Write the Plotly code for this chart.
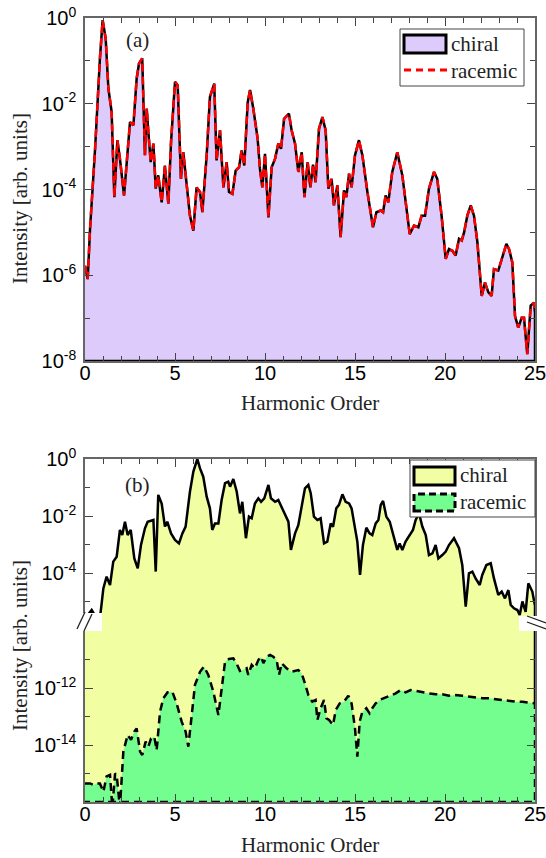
import plotly.graph_objects as go

# ---------------- data (log10 of intensity vs harmonic order) ----------------
harm_a = [0.00, 0.15, 0.28, 0.56, 0.83, 0.98, 1.15, 1.30, 1.48, 1.63,
          1.80, 1.94, 2.17, 2.31, 2.50, 2.69, 2.87, 3.00, 3.18, 3.33,
          3.43, 3.52, 3.65, 3.80, 3.93, 4.07, 4.26, 4.44, 4.63, 4.78,
          5.00, 5.15, 5.33, 5.46, 5.65, 5.83, 6.02, 6.20, 6.39, 6.52,
          6.76, 6.94, 7.18, 7.31, 7.50, 7.69, 7.87, 8.00, 8.19, 8.37,
          8.56, 8.70, 8.85, 9.04, 9.17, 9.35, 9.59, 9.72, 9.85, 10.00,
          10.19, 10.37, 10.56, 10.74, 10.89, 11.06, 11.33, 11.48, 11.67, 11.85,
          12.04, 12.19, 12.37, 12.52, 12.67, 12.81, 13.00, 13.19, 13.37, 13.52,
          13.70, 13.83, 14.02, 14.20, 14.39, 14.52, 14.67, 14.81, 15.00, 15.22,
          15.41, 15.69, 16.00, 16.19, 16.43, 16.56, 16.70, 16.85, 17.07, 17.35,
          17.63, 17.81, 18.04, 18.28, 18.52, 18.70, 18.89, 19.11, 19.39, 19.57,
          19.81, 20.04, 20.22, 20.41, 20.59, 20.78, 20.93, 21.06, 21.24, 21.43,
          21.61, 21.80, 22.04, 22.22, 22.41, 22.59, 22.72, 22.96, 23.19, 23.41,
          23.56, 23.74, 23.89, 24.07, 24.26, 24.39, 24.48, 24.57, 24.76, 24.94,
          25.00]
chiral_a_exp = [-5.78, -6.09, -4.92, -3.05, -0.94, -0.05, -0.48, -1.65, -2.19, -4.18,
                -2.85, -3.28, -4.14, -3.44, -2.43, -2.50, -1.41, -1.06, -0.94, -3.20,
                -2.11, -2.66, -3.36, -2.93, -3.98, -3.67, -4.30, -3.44, -4.33, -2.89,
                -1.49, -1.57, -3.75, -3.13, -3.98, -4.61, -4.96, -3.95, -4.06, -4.53,
                -3.20, -1.84, -1.53, -3.32, -2.62, -3.95, -3.36, -4.06, -4.10, -3.56,
                -3.48, -3.09, -3.44, -1.96, -1.68, -2.11, -2.81, -3.52, -3.95, -3.17,
                -4.65, -3.48, -3.28, -2.93, -3.05, -2.35, -2.23, -2.62, -2.93, -3.59,
                -3.13, -4.18, -3.36, -3.95, -3.42, -3.83, -2.58, -2.31, -2.62, -3.98,
                -3.75, -4.37, -3.90, -5.11, -4.02, -4.18, -3.63, -3.95, -3.20, -2.85,
                -3.20, -4.06, -4.88, -4.53, -4.49, -4.53, -4.14, -4.30, -3.59, -3.13,
                -3.67, -4.30, -5.04, -4.84, -4.88, -4.61, -4.61, -3.98, -3.59, -3.75,
                -4.61, -5.62, -5.39, -5.43, -5.54, -5.15, -5.19, -5.00, -4.61, -4.37,
                -4.61, -5.23, -6.48, -6.17, -6.40, -6.48, -5.86, -5.89, -5.54, -5.27,
                -5.39, -5.70, -6.95, -7.22, -6.99, -6.99, -7.42, -7.84, -6.71, -6.64,
                -6.88]
racemic_a_exp = [-5.78, -6.09, -4.92, -3.05, -0.94, -0.05, -0.48, -1.65, -2.19, -4.18,
                 -2.85, -3.28, -4.14, -3.44, -2.43, -2.50, -1.41, -1.06, -0.94, -3.20,
                 -2.11, -2.66, -3.36, -2.93, -3.98, -3.67, -4.30, -3.44, -4.33, -2.89,
                 -1.49, -1.57, -3.75, -3.13, -3.98, -4.61, -4.96, -3.95, -4.06, -4.53,
                 -3.20, -1.84, -1.53, -3.32, -2.62, -3.95, -3.36, -4.06, -4.10, -3.56,
                 -3.48, -3.09, -3.44, -1.96, -1.68, -2.11, -2.81, -3.52, -3.95, -3.17,
                 -4.65, -3.48, -3.28, -2.93, -3.05, -2.35, -2.23, -2.62, -2.93, -3.59,
                 -3.13, -4.18, -3.36, -3.95, -3.42, -3.83, -2.58, -2.31, -2.62, -3.98,
                 -3.75, -4.37, -3.90, -5.11, -4.02, -4.18, -3.63, -3.95, -3.20, -2.85,
                 -3.20, -4.06, -4.88, -4.53, -4.49, -4.53, -4.14, -4.30, -3.59, -3.13,
                 -3.67, -4.30, -5.04, -4.84, -4.88, -4.61, -4.61, -3.98, -3.59, -3.75,
                 -4.61, -5.62, -5.39, -5.43, -5.54, -5.15, -5.19, -5.00, -4.61, -4.37,
                 -4.61, -5.23, -6.48, -6.17, -6.40, -6.48, -5.86, -5.89, -5.54, -5.27,
                 -5.39, -5.70, -6.95, -7.22, -6.99, -6.99, -7.42, -7.84, -6.71, -6.64,
                 -6.88]

harm_b_chiral = [0.00, 0.19, 0.37, 0.56, 0.83, 1.02, 1.20, 1.39, 1.57, 1.76,
                 1.94, 2.07, 2.22, 2.37, 2.54, 2.74, 2.93, 3.11, 3.33, 3.48,
                 3.70, 3.80, 3.93, 4.07, 4.26, 4.44, 4.57, 4.78, 5.00, 5.22,
                 5.41, 5.59, 5.83, 6.02, 6.24, 6.39, 6.57, 6.76, 6.94, 7.07,
                 7.22, 7.41, 7.59, 7.78, 7.96, 8.06, 8.24, 8.43, 8.61, 8.74,
                 8.94, 9.11, 9.26, 9.44, 9.63, 9.78, 9.96, 10.19, 10.33, 10.56,
                 10.74, 11.11, 11.30, 11.44, 11.67, 11.85, 12.04, 12.22, 12.41, 12.54,
                 12.72, 12.91, 13.09, 13.28, 13.46, 13.65, 13.78, 13.96, 14.11, 14.30,
                 14.48, 14.67, 14.81, 14.94, 15.13, 15.28, 15.44, 15.63, 15.81, 15.96,
                 16.15, 16.30, 16.43, 16.56, 16.74, 16.93, 17.07, 17.26, 17.35, 17.48,
                 17.63, 17.81, 18.00, 18.22, 18.37, 18.56, 18.74, 18.93, 19.11, 19.30,
                 19.48, 19.63, 19.85, 20.04, 20.22, 20.50, 20.78, 20.96, 21.15, 21.33,
                 21.52, 21.70, 21.93, 22.07, 22.30, 22.54, 22.72, 22.96, 23.15, 23.33,
                 23.52, 23.65, 23.83, 24.02, 24.15, 24.30, 24.48, 24.63, 24.85, 25.00]
chiral_b_exp = [-5.60, -5.45, -5.30, -5.50, -5.59, -4.54, -4.13, -4.42, -3.60, -3.43,
                -2.49, -2.67, -2.20, -2.67, -2.49, -3.49, -3.84, -3.02, -2.43, -2.20,
                -2.14, -2.14, -3.95, -1.26, -1.56, -2.37, -2.20, -2.61, -2.84, -2.96,
                -2.61, -2.37, -1.15, -0.44, 0.00, -0.33, -0.62, -1.32, -1.73, -2.49,
                -2.26, -2.26, -1.44, -0.85, -0.80, -0.97, -0.70, -1.15, -1.91, -1.50,
                -2.78, -2.02, -2.08, -1.56, -1.38, -1.50, -1.38, -0.91, -1.38, -1.50,
                -1.44, -1.96, -2.20, -3.19, -2.61, -2.32, -1.61, -1.03, -0.91, -1.20,
                -2.02, -2.14, -2.08, -2.96, -2.90, -2.26, -2.38, -1.73, -1.61, -1.24,
                -1.50, -1.56, -1.73, -2.26, -2.90, -4.07, -3.02, -2.41, -2.61, -2.67,
                -2.26, -2.14, -1.61, -1.47, -2.02, -2.20, -2.55, -3.02, -3.19, -2.96,
                -3.19, -2.90, -2.73, -2.49, -2.14, -1.91, -2.37, -2.67, -3.37, -3.31,
                -3.02, -3.49, -3.37, -3.25, -3.02, -2.78, -3.13, -3.72, -5.18, -4.01,
                -3.95, -4.19, -4.42, -4.07, -3.72, -3.66, -4.19, -4.77, -4.65, -4.89,
                -4.60, -5.12, -5.24, -5.30, -5.47, -5.00, -5.36, -4.36, -4.65, -5.15]

harm_b_racemic = [0.00, 0.28, 0.46, 0.65, 0.83, 1.02, 1.20, 1.39, 1.52, 1.67,
                  1.76, 1.94, 2.13, 2.37, 2.56, 2.74, 2.87, 3.06, 3.18, 3.37,
                  3.52, 3.67, 3.85, 3.98, 4.17, 4.35, 4.59, 4.85, 5.09, 5.37,
                  5.59, 5.74, 5.93, 6.11, 6.39, 6.61, 6.85, 7.13, 7.41, 7.59,
                  7.78, 8.00, 8.24, 8.43, 8.61, 8.80, 8.98, 9.07, 9.26, 9.44,
                  9.63, 9.78, 9.91, 10.09, 10.28, 10.46, 10.65, 10.78, 10.93, 11.20,
                  11.48, 11.85, 12.04, 12.22, 12.41, 12.54, 12.63, 12.81, 12.91, 13.09,
                  13.28, 13.41, 13.56, 13.78, 13.93, 14.15, 14.39, 14.63, 14.81, 15.00,
                  15.13, 15.26, 15.41, 15.63, 15.81, 15.96, 16.15, 16.37, 16.70, 16.98,
                  17.26, 17.54, 17.81, 18.09, 18.37, 18.74, 19.11, 19.48, 19.85, 20.22,
                  20.59, 20.96, 21.33, 21.70, 22.07, 22.44, 22.81, 23.19, 23.56, 23.93,
                  24.30, 24.67, 25.00]
racemic_b_exp = [-15.35, -15.35, -15.40, -15.35, -15.35, -15.64, -15.10, -15.05, -16.20, -15.00,
                 -15.05, -16.20, -14.23, -13.65, -13.82, -13.53, -13.42, -14.23, -14.35, -13.88,
                 -14.06, -13.77, -13.71, -14.18, -12.83, -12.36, -12.15, -12.13, -12.54, -13.18,
                 -13.53, -14.06, -12.95, -11.89, -11.43, -11.25, -11.54, -12.13, -12.95, -12.01,
                 -11.08, -10.98, -10.96, -11.15, -11.40, -11.36, -11.31, -11.54, -11.19, -11.31,
                 -11.02, -10.90, -11.13, -10.90, -10.84, -10.90, -11.02, -11.54, -11.13, -11.31,
                 -11.43, -11.37, -11.49, -11.84, -12.25, -12.40, -12.48, -12.42, -13.12, -12.71,
                 -12.42, -13.06, -13.12, -13.30, -12.77, -12.54, -12.48, -12.27, -12.54, -13.42,
                 -14.41, -13.18, -12.83, -12.71, -12.89, -12.71, -12.54, -12.42, -12.34, -12.27,
                 -12.19, -12.07, -12.15, -12.07, -12.11, -12.15, -12.19, -12.22, -12.22, -12.27,
                 -12.25, -12.27, -12.30, -12.34, -12.36, -12.36, -12.39, -12.42, -12.45, -12.48,
                 -12.48, -12.50, -12.54]

assert len(harm_a) == len(chiral_a_exp) == len(racemic_a_exp)
assert len(harm_b_chiral) == len(chiral_b_exp)
assert len(harm_b_racemic) == len(racemic_b_exp)

# ---------------- layout helpers ----------------
W, H = 546, 858
L, R, T, B = 85, 11, 18, 56
PW, PH = W - L - R, H - T - B


def px(x):
    return (x - L) / PW


def py(y):
    return (H - B - y) / PH


SERIF = "Liberation Serif"
SANS = "Liberation Sans"
PURPLE = "#dccbfb"
YELLOW = "#f1fea2"
GREEN = "#74fe8f"
BASE_A = 1e-8
BASE_B = 1e-16

fig = go.Figure()

# panel (a)
fig.add_trace(go.Scatter(
    x=harm_a + [harm_a[-1], harm_a[0]],
    y=[10 ** v for v in chiral_a_exp] + [BASE_A, BASE_A],
    mode="lines", fill="toself", fillcolor=PURPLE,
    line=dict(color="black", width=2.5), name="chiral",
    xaxis="x", yaxis="y", showlegend=False, hoverinfo="skip"))
fig.add_trace(go.Scatter(
    x=harm_a, y=[10 ** v for v in racemic_a_exp],
    mode="lines", line=dict(color="#ff0000", width=2.5, dash="8px,5px"),
    name="racemic", xaxis="x", yaxis="y", showlegend=False, hoverinfo="skip"))

# panel (b): chiral drawn in both halves of the broken axis
for xa, yax in (("x2", "y2"), ("x3", "y3")):
    fig.add_trace(go.Scatter(
        x=harm_b_chiral + [harm_b_chiral[-1], harm_b_chiral[0]],
        y=[10 ** v for v in chiral_b_exp] + [BASE_B, BASE_B],
        mode="lines", fill="toself", fillcolor=YELLOW,
        line=dict(color="black", width=2.5), name="chiral",
        xaxis=xa, yaxis=yax, showlegend=False, hoverinfo="skip"))
fig.add_trace(go.Scatter(
    x=harm_b_racemic + [harm_b_racemic[-1], harm_b_racemic[0]],
    y=[10 ** v for v in racemic_b_exp] + [BASE_B, BASE_B],
    mode="lines", fill="toself", fillcolor=GREEN,
    line=dict(color="black", width=2.5, dash="8px,5px"), name="racemic",
    xaxis="x3", yaxis="y3", showlegend=False, hoverinfo="skip"))

TICKC = "#444"
LINEC = "#666"


def xaxis(anchor, side="bottom", labels=True, mirror="ticks"):
    return dict(range=[0, 25], anchor=anchor, domain=[0, 1], side=side,
                automargin=False, ticklabeloverflow="allow",
                ticks="inside", ticklen=8, tickwidth=1, tickcolor=TICKC,
                tick0=0, dtick=5, showticklabels=labels, ticklabelstandoff=-7,
                tickfont=dict(family=SANS, size=20, color="black"),
                showline=True, linecolor=LINEC, linewidth=1.5, mirror=mirror,
                showgrid=False, zeroline=False,
                minor=dict(dtick=1, tick0=0, ticks="inside", ticklen=5,
                           tickwidth=1, tickcolor=TICKC, showgrid=False))


def yaxis(anchor, rng, domain, major, minor):
    return dict(type="log", range=rng, anchor=anchor, domain=domain,
                automargin=False, ticklabeloverflow="allow",
                ticks="inside", ticklen=8, tickwidth=1, tickcolor=TICKC,
                tickvals=[10.0 ** e for e in major],
                ticktext=["10<sup>%d</sup>" % e for e in major],
                tickfont=dict(family=SANS, size=20, color="black"),
                ticklabelstandoff=3,
                showline=True, linecolor=LINEC, linewidth=1.5, mirror="ticks",
                showgrid=False, zeroline=False,
                minor=dict(tickvals=[10.0 ** e for e in minor], ticks="inside",
                           ticklen=5, tickwidth=1, tickcolor=TICKC, showgrid=False))


SPLIT = 622
fig.update_layout(
    width=W, height=H, margin=dict(l=L, r=R, t=T, b=B, autoexpand=False),
    paper_bgcolor="white", plot_bgcolor="white", showlegend=False,
    xaxis=xaxis("y"),
    yaxis=yaxis("x", [-8, 0], [py(361), py(18)], [-8, -6, -4, -2, 0], [-7, -5, -3, -1]),
    xaxis2=xaxis("y2", side="top", labels=False, mirror=False),
    yaxis2=yaxis("x2", [-(SPLIT - 459) / 28.5, 0], [py(SPLIT), py(459)],
                 [-4, -2, 0], [-5, -3, -1]),
    xaxis3=xaxis("y3", mirror=False),
    yaxis3=yaxis("x3", [-16, -12 - (SPLIT - 688) / 28.5], [0, py(SPLIT)],
                 [-14, -12], [-15, -13, -11]),
)

shapes = []
annotations = []


def rect(x0, y0, x1, y1, fill, lc, lw, dash="solid"):
    shapes.append(dict(type="rect", xref="paper", yref="paper",
                       x0=px(x0), x1=px(x1), y0=py(y1), y1=py(y0),
                       fillcolor=fill, line=dict(color=lc, width=lw, dash=dash),
                       layer="above"))


def seg(x0, y0, x1, y1, color, width, dash="solid"):
    shapes.append(dict(type="line", xref="paper", yref="paper",
                       x0=px(x0), x1=px(x1), y0=py(y0), y1=py(y1),
                       line=dict(color=color, width=width, dash=dash), layer="above"))


def text(x, y, s, size=21, xanchor="left", angle=0):
    annotations.append(dict(xref="paper", yref="paper", x=px(x), y=py(y), text=s,
                            showarrow=False, xanchor=xanchor, yanchor="middle",
                            textangle=angle,
                            font=dict(family=SERIF, size=size, color="#222")))


# axis break in panel (b)
rect(83, 613, 102, 631, "white", "white", 0)
rect(519, 616, 538, 631, "white", "white", 0)
seg(77, 629, 85, 612, "#222", 1.3)
seg(84, 631, 92, 614, "#222", 1.3)
seg(527, 616, 546, 623, "#222", 1.3)
seg(527, 622, 546, 629, "#222", 1.3)

# legend (a)
rect(400, 29, 524, 86, "white", "#444", 1)
rect(404, 35, 446, 53, PURPLE, "black", 3)
seg(404, 70, 447, 70, "#ff0000", 3, "7px,5px")
text(449, 44, "chiral")
text(449, 71, "racemic")

# legend (b)
rect(410, 460, 535, 517, "white", "#444", 1)
rect(414, 467, 455, 485, YELLOW, "black", 3)
rect(414, 494, 455, 511, GREEN, "black", 3, "7px,4px")
text(458, 475, "chiral")
text(458, 502, "racemic")

# panel labels and axis titles
text(137, 40, "(a)", xanchor="center")
text(137, 485, "(b)", xanchor="center")
text(20, 199, "Intensity [arb. units]", xanchor="center", angle=-90)
text(20, 646, "Intensity [arb. units]", xanchor="center", angle=-90)
text(310, 403, "Harmonic Order", xanchor="center")
text(310, 845, "Harmonic Order", xanchor="center")

fig.update_layout(shapes=shapes, annotations=annotations)
fig.write_html("out.html",
               config={"displayModeBar": False},
               post_script="document.body.style.margin='0';"
                           "document.body.style.overflow='hidden';")
